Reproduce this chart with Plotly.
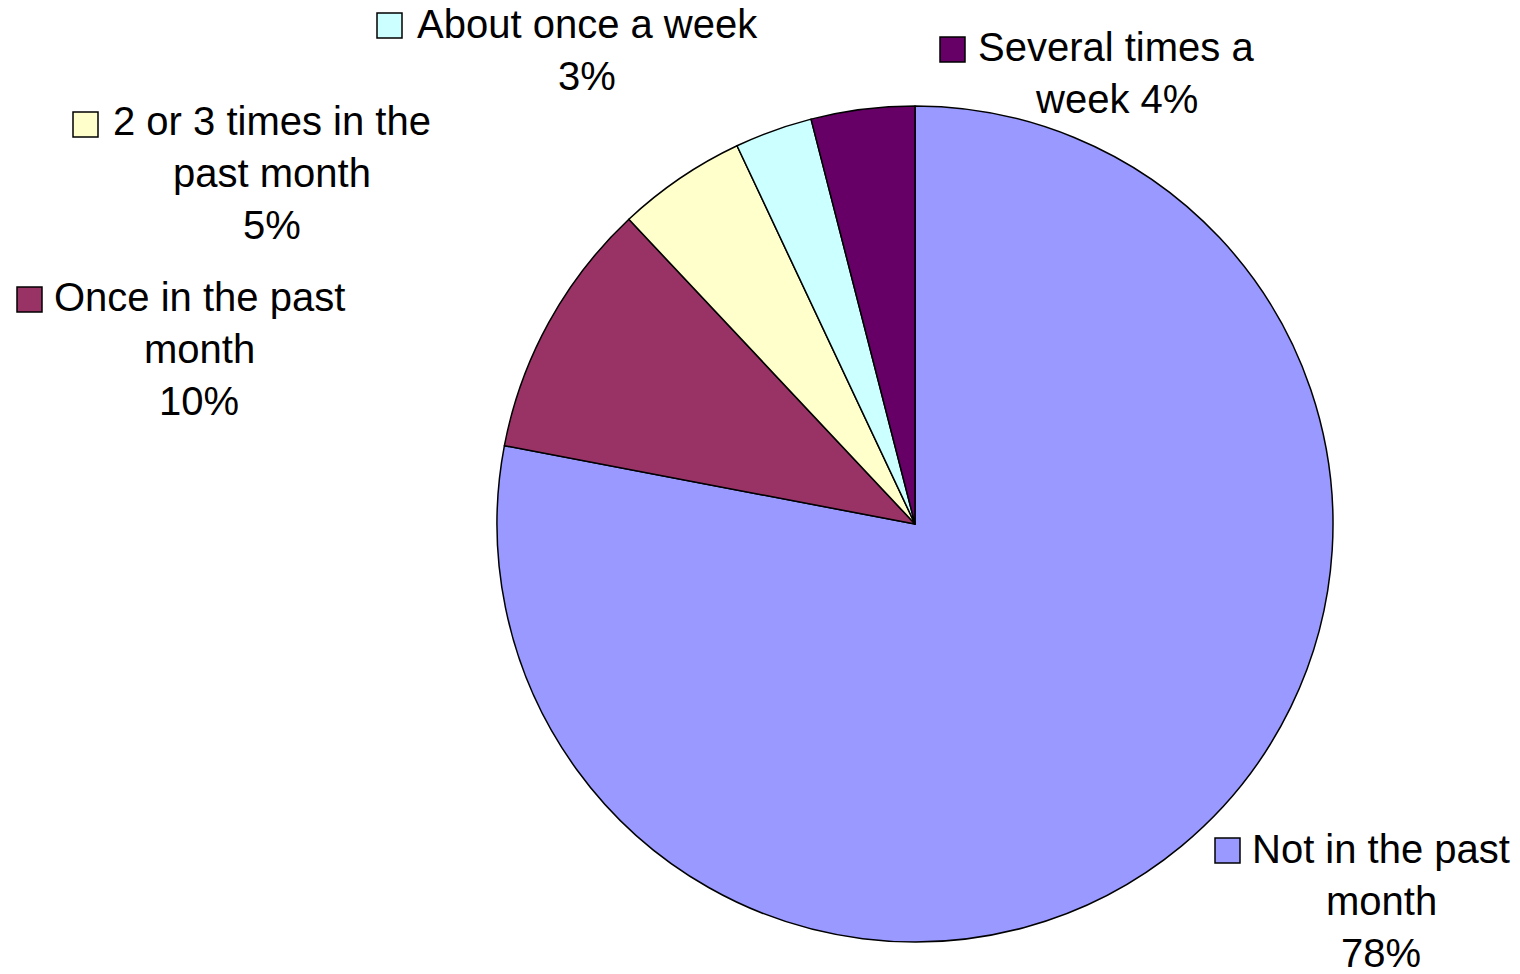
import plotly.graph_objects as go

# Survey answers, clockwise from 12 o'clock
categories = [
    "Not in the past month",
    "Once in the past month",
    "2 or 3 times in the past month",
    "About once a week",
    "Several times a week",
]
shares = [78, 10, 5, 3, 4]
slice_colors = ["#9999FF", "#993366", "#FFFFCC", "#CCFFFF", "#660066"]

# Label text, broken into display lines
label_lines = [
    ["Not in the past", "month", "78%"],
    ["Once in the past", "month", "10%"],
    ["2 or 3 times in the", "past month", "5%"],
    ["About once a week", "3%"],
    ["Several times a", "week 4%"],
]

W, H = 1520, 974
CX, CY, R = 915, 524, 418  # pie centre / radius in pixels

# label placement: text centre x, first baseline y, key square top-left
label_pos = [
    (1381, 863, 1215, 838),
    (199, 311, 17, 287),
    (272, 135, 73, 112),
    (587, 38, 377, 13),
    (1116, 61, 940, 37),
]
LINE_GAP = 52
KEY = 25
FONT = "Liberation Sans, Arial, sans-serif"


def px(x):
    return x / W


def py(y):
    return 1 - y / H


fig = go.Figure(
    go.Pie(
        labels=categories,
        values=shares,
        sort=False,
        direction="clockwise",
        rotation=0,
        marker=dict(colors=slice_colors, line=dict(color="black", width=1.5)),
        textinfo="none",
        hoverinfo="label+percent",
        showlegend=False,
        domain=dict(x=[px(CX - R), px(CX + R)], y=[py(CY + R), py(CY - R)]),
    )
)

annotations = []
shapes = []
for lines, (tx, b0, kx, ky), col in zip(label_lines, label_pos, slice_colors):
    for i, line in enumerate(lines):
        base = b0 + i * LINE_GAP
        annotations.append(
            dict(
                text=line,
                x=px(tx),
                y=py(base - 14),
                xref="paper",
                yref="paper",
                xanchor="center",
                yanchor="middle",
                showarrow=False,
                font=dict(family=FONT, size=40, color="black"),
            )
        )
    shapes.append(
        dict(
            type="rect",
            xref="paper",
            yref="paper",
            x0=px(kx),
            x1=px(kx + KEY),
            y0=py(ky + KEY),
            y1=py(ky),
            fillcolor=col,
            line=dict(color="black", width=1.5),
        )
    )

fig.update_layout(
    width=W,
    height=H,
    margin=dict(l=0, r=0, t=0, b=0),
    paper_bgcolor="white",
    plot_bgcolor="white",
    annotations=annotations,
    shapes=shapes,
)

fig.write_html("out.html")
